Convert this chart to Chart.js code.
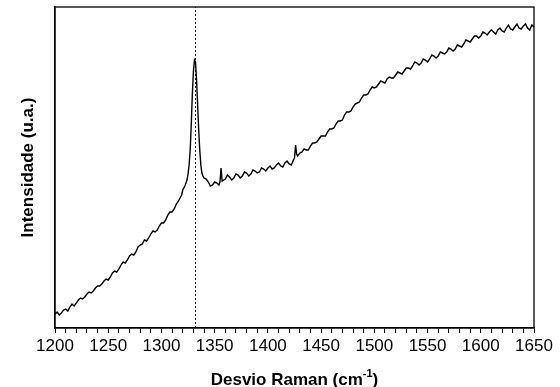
<!DOCTYPE html>
<html>
<head>
<meta charset="utf-8">
<script src="https://cdn.jsdelivr.net/npm/chart.js@4/dist/chart.umd.min.js"></script>
<style>
  html, body { margin: 0; padding: 0; background: #fff; }
  #wrap { width: 560px; height: 387px; }
</style>
</head>
<body>
<div id="wrap"><canvas id="chartRaman"></canvas></div>
<script>
// Espectro Raman (intensidade em unidades arbitrarias)
const desvio = [
  1200, 1202, 1204, 1206, 1208, 1210, 1212, 1214, 1216, 1218,
  1220, 1222, 1224, 1226, 1228, 1230, 1232, 1234, 1236, 1238,
  1240, 1242, 1244, 1246, 1248, 1250, 1252, 1254, 1256, 1258,
  1260, 1262, 1264, 1266, 1268, 1270, 1272, 1274, 1276, 1278,
  1280, 1282, 1284, 1286, 1288, 1290, 1292, 1294, 1296, 1298,
  1300, 1302, 1304, 1306, 1308, 1310, 1312, 1314, 1316, 1318,
  1319, 1320, 1321, 1322, 1323, 1324, 1325, 1326, 1327, 1328,
  1329, 1330, 1331, 1332, 1333, 1334, 1335, 1336, 1337, 1338,
  1339, 1340, 1342, 1344, 1346, 1348, 1350, 1352, 1354, 1355,
  1356, 1357, 1360, 1362, 1364, 1366, 1368, 1370, 1372, 1374,
  1376, 1378, 1380, 1382, 1384, 1386, 1388, 1390, 1392, 1394,
  1396, 1398, 1400, 1402, 1404, 1406, 1408, 1410, 1412, 1414,
  1416, 1418, 1420, 1422, 1424, 1425, 1426, 1427, 1428, 1430,
  1432, 1434, 1436, 1438, 1440, 1442, 1444, 1446, 1448, 1450,
  1452, 1454, 1456, 1458, 1460, 1462, 1464, 1466, 1468, 1470,
  1472, 1474, 1476, 1478, 1480, 1482, 1484, 1486, 1488, 1490,
  1492, 1494, 1496, 1498, 1500, 1502, 1504, 1506, 1508, 1510,
  1512, 1514, 1516, 1518, 1520, 1522, 1524, 1526, 1528, 1530,
  1532, 1534, 1536, 1538, 1540, 1542, 1544, 1546, 1548, 1550,
  1552, 1554, 1556, 1558, 1560, 1562, 1564, 1566, 1568, 1570,
  1572, 1574, 1576, 1578, 1580, 1582, 1584, 1586, 1588, 1590,
  1592, 1594, 1596, 1598, 1600, 1602, 1604, 1606, 1608, 1610,
  1612, 1614, 1616, 1618, 1620, 1622, 1624, 1626, 1628, 1630,
  1632, 1634, 1636, 1638, 1640, 1642, 1644, 1646, 1648, 1650
];
const intensidade = [
  14, 16, 13, 15, 18, 19, 17, 21, 24, 22,
  25, 28, 30, 29, 31, 34, 36, 35, 37, 40,
  42, 42, 44, 47, 49, 48, 51, 55, 57, 56,
  59, 63, 66, 65, 68, 72, 74, 73, 76, 81,
  83, 84, 88, 87, 90, 94, 97, 96, 98, 102,
  105, 105, 108, 113, 116, 116, 119, 124, 127, 131,
  133, 138, 140, 142, 145, 148, 154, 163, 178, 203,
  233, 256, 268, 266, 248, 223, 198, 178, 163, 155,
  152, 150, 149, 146, 142, 143, 146, 145, 143, 146,
  160, 147, 149, 153, 151, 148, 150, 154, 153, 150,
  152, 156, 155, 152, 154, 158, 157, 155, 156, 160,
  159, 157, 160, 162, 159, 160, 163, 165, 162, 161,
  165, 167, 164, 163, 168, 170, 183, 174, 172, 175,
  176, 179, 178, 178, 182, 185, 185, 186, 189, 192,
  192, 192, 196, 199, 199, 200, 204, 207, 207, 208,
  213, 216, 216, 217, 221, 224, 225, 226, 230, 233,
  233, 234, 238, 241, 240, 241, 244, 247, 246, 245,
  249, 251, 250, 250, 253, 256, 255, 254, 257, 260,
  260, 259, 262, 266, 265, 263, 265, 269, 268, 266,
  269, 273, 272, 270, 272, 276, 275, 274, 276, 280,
  279, 277, 279, 283, 282, 281, 284, 288, 287, 286,
  289, 292, 292, 290, 292, 296, 295, 293, 296, 298,
  296, 294, 298, 300, 297, 296, 300, 303, 299, 298,
  301, 304, 300, 299, 302, 304, 300, 298, 303, 301
];
const linhaRef = 1332;
const eixoX = [1200, 1650];
const eixoY = [0, 321];

const pontos = desvio.map((x, i) => ({ x: x, y: intensidade[i] }));

// moldura e titulo do eixo x (com expoente)
const moldura = {
  id: 'moldura',
  afterDraw(chart) {
    const c = chart.ctx;
    const a = chart.chartArea;
    c.save();
    c.strokeStyle = '#000';
    c.lineWidth = 1.3;
    c.strokeRect(a.left, a.top, a.right - a.left, a.bottom - a.top);

    const p1 = 'Desvio Raman (cm';
    const p2 = '-1';
    const p3 = ')';
    c.fillStyle = '#000';
    c.textBaseline = 'alphabetic';
    c.font = 'bold 17px "Liberation Sans", Arial, sans-serif';
    const w1 = c.measureText(p1).width;
    const w3 = c.measureText(p3).width;
    c.font = 'bold 11px "Liberation Sans", Arial, sans-serif';
    const w2 = c.measureText(p2).width;
    const total = w1 + w2 + w3;
    let x = (a.left + a.right) / 2 - total / 2;
    const y = 385;
    c.font = 'bold 17px "Liberation Sans", Arial, sans-serif';
    c.fillText(p1, x, y);
    c.font = 'bold 11px "Liberation Sans", Arial, sans-serif';
    c.fillText(p2, x + w1, y - 8);
    c.font = 'bold 17px "Liberation Sans", Arial, sans-serif';
    c.fillText(p3, x + w1 + w2, y);
    c.restore();
  }
};

new Chart(document.getElementById('chartRaman'), {
  type: 'line',
  data: {
    datasets: [{
      data: pontos,
      borderColor: '#000',
      borderWidth: 1.4,
      pointRadius: 0,
      tension: 0
    }, {
      data: [{ x: linhaRef, y: eixoY[0] }, { x: linhaRef, y: eixoY[1] }],
      borderColor: '#222',
      borderWidth: 1,
      borderDash: [2, 2],
      pointRadius: 0
    }]
  },
  options: {
    responsive: true,
    maintainAspectRatio: false,
    animation: false,
    layout: { padding: { top: 7, right: 26, left: 0, bottom: 0 } },
    plugins: {
      legend: { display: false },
      tooltip: { enabled: false }
    },
    scales: {
      x: {
        type: 'linear',
        min: eixoX[0],
        max: eixoX[1],
        border: { display: true, color: '#000', width: 1.3 },
        grid: {
          display: true,
          drawOnChartArea: false,
          drawTicks: true,
          tickLength: 5,
          color: '#000',
          lineWidth: 1
        },
        ticks: {
          stepSize: 10,
          autoSkip: false,
          maxRotation: 0,
          padding: 3,
          color: '#000',
          font: { family: '"Liberation Sans", Arial, sans-serif', size: 17 },
          callback: (v) => (v % 50 === 0 ? v : '')
        },
        afterFit: (s) => { s.height = 59; }
      },
      y: {
        min: eixoY[0],
        max: eixoY[1],
        border: { display: true, color: '#000', width: 1.3 },
        grid: { display: false },
        ticks: { display: false },
        title: {
          display: true,
          text: 'Intensidade (u.a.)',
          color: '#000',
          padding: { top: 18, bottom: 0 },
          font: { family: '"Liberation Sans", Arial, sans-serif', size: 17, weight: 'bold' }
        },
        afterFit: (s) => { s.width = 55; }
      }
    }
  },
  plugins: [moldura]
});
</script>
</body>
</html>
